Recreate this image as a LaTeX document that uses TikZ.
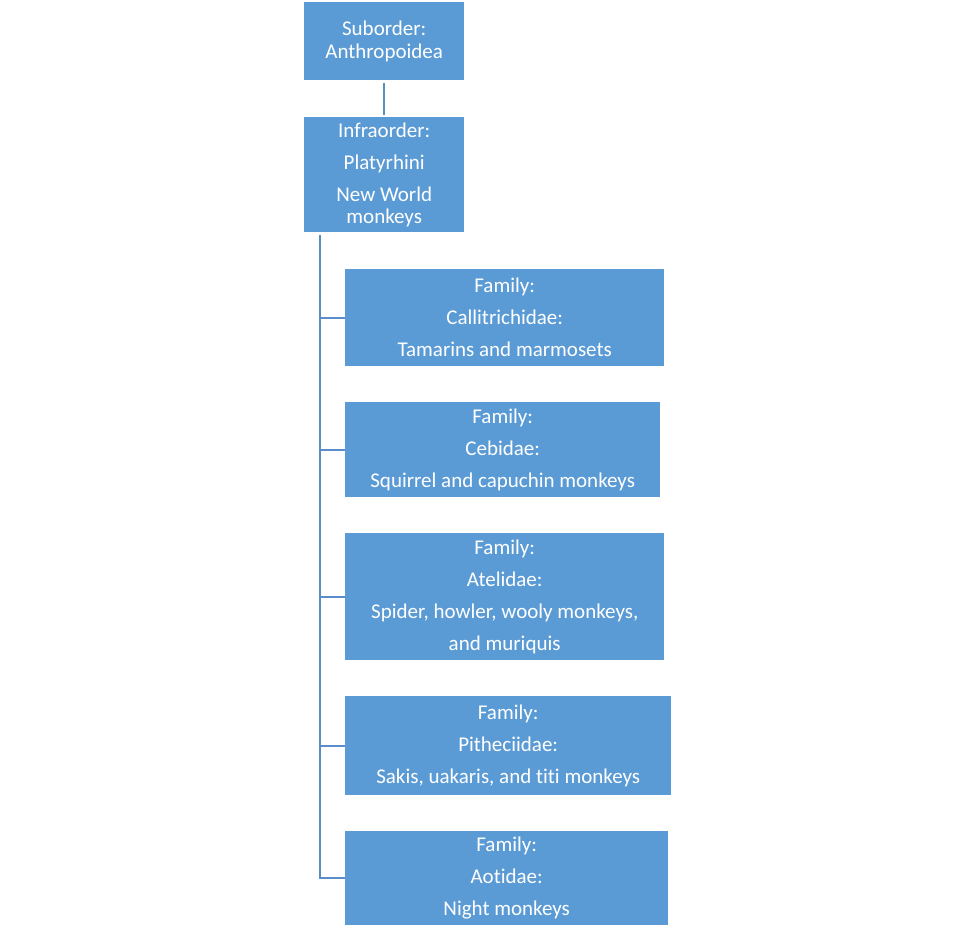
\documentclass[tikz,border=0pt]{standalone}
\usepackage{fontspec}
\setmainfont{Carlito}[Ligatures=NoCommon]
\definecolor{boxblue}{HTML}{5B9BD5}
\definecolor{lineblue}{HTML}{5A8CC8}
\begin{document}
\begin{tikzpicture}[x=1pt,y=-1pt,
  taxbox/.style={fill=boxblue,draw=none,text=white,align=center,anchor=north west,
    inner sep=0pt,font=\fontsize{21}{22.5}\selectfont},
  link/.style={draw=lineblue,line width=2pt}]
\useasboundingbox (0,0) rectangle (975,935);
\node[taxbox,minimum width=160pt,minimum height=78pt] (sub) at (304,2) {Suborder:\\Anthropoidea};
\node[taxbox,minimum width=160pt,minimum height=115pt] (infra) at (304,117) {Infraorder:\\[9.5pt]Platyrhini\\[9.5pt]New World\\monkeys};
\node[taxbox,minimum width=319pt,minimum height=97pt] (f1) at (345,269) {Family:\\[9.5pt]Callitrichidae:\\[9.5pt]Tamarins and marmosets};
\node[taxbox,minimum width=315pt,minimum height=95pt] (f2) at (345,402) {Family:\\[9.5pt]Cebidae:\\[9.5pt]Squirrel and capuchin monkeys};
\node[taxbox,minimum width=319pt,minimum height=127pt] (f3) at (345,533) {Family:\\[9.5pt]Atelidae:\\[9.5pt]Spider, howler, wooly monkeys,\\[9.5pt]and muriquis};
\node[taxbox,minimum width=326pt,minimum height=99pt] (f4) at (345,696) {Family:\\[9.5pt]Pitheciidae:\\[9.5pt]Sakis, uakaris, and titi monkeys};
\node[taxbox,minimum width=323pt,minimum height=94pt] (f5) at (345,831) {Family:\\[9.5pt]Aotidae:\\[9.5pt]Night monkeys};
\coordinate (trunk) at ([xshift=16pt,yshift=-3pt]infra.south west);
\draw[link] ([yshift=-3pt]sub.south) -- ([yshift=2pt]infra.north);
\draw[link] (trunk) |- (f1.west);
\draw[link] (trunk) |- (f2.west);
\draw[link] (trunk) |- (f3.west);
\draw[link] (trunk) |- (f4.west);
\draw[link] (trunk) |- (f5.west);
\end{tikzpicture}
\end{document}
